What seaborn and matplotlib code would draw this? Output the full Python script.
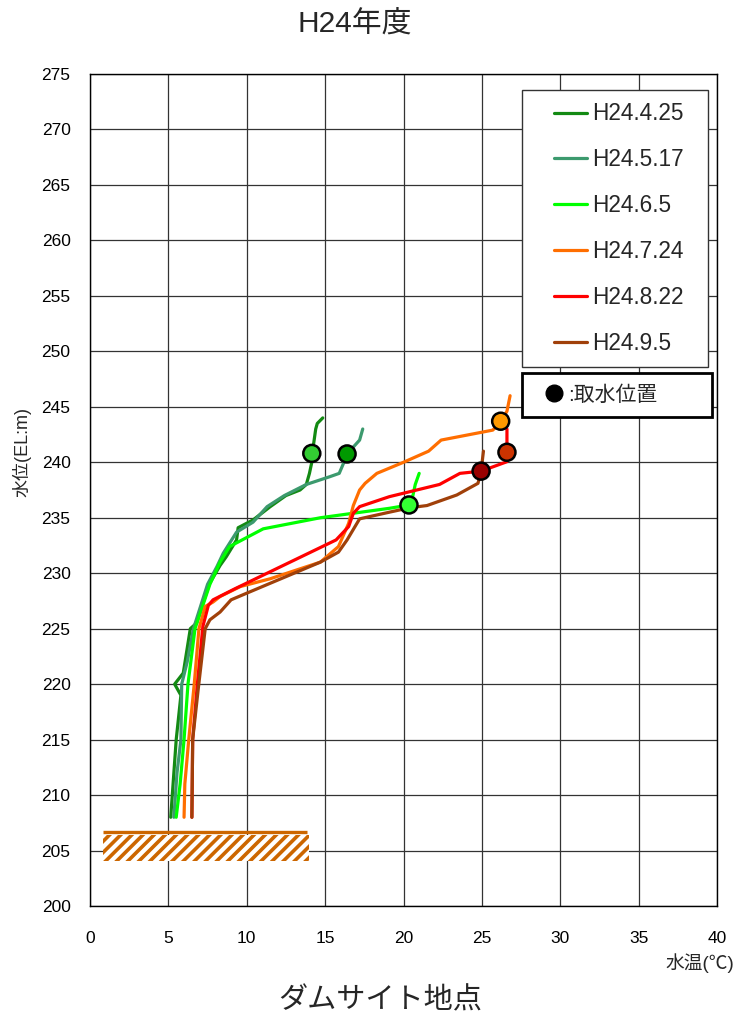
import matplotlib
matplotlib.use("Agg")
import matplotlib.pyplot as plt
from matplotlib.lines import Line2D
from matplotlib.legend_handler import HandlerLine2D
import seaborn as sns
import pandas as pd

# ---------------- data ----------------
DATES = ["H24.4.25", "H24.5.17", "H24.6.5", "H24.7.24", "H24.8.22", "H24.9.5"]
LINE_COLORS = ["#138a13", "#3c9a6e", "#00ff00", "#ff6e00", "#ff0000", "#a0400a"]
MARKER_COLORS = ["#33cc33", "#009900", "#33ff33", "#ff9900", "#cc3300", "#990000"]

EL_0425 = [208, 212, 215, 219, 220, 221, 225, 225.5, 229, 230.7, 231.5, 233, 234.1, 234.8,
           236, 237, 237.5, 238, 239, 240, 241, 242, 243, 243.5, 244]
T_0425 = [5.15, 5.35, 5.5, 5.8, 5.4, 5.95, 6.4, 6.8, 7.6, 8.3, 8.7, 9.35, 9.45, 10.4,
          11.5, 12.5, 13.4, 13.8, 14.0, 14.15, 14.2, 14.3, 14.4, 14.5, 14.85]

EL_0517 = [208, 212, 215, 220, 222, 225, 229, 230.6, 231.8, 233.7, 234.6, 236, 237, 238,
           238.7, 239, 240, 240.75, 242, 242.5, 243]
T_0517 = [5.35, 5.55, 5.8, 5.85, 6.2, 6.6, 7.5, 8.1, 8.5, 9.35, 10.4, 11.3, 12.4, 13.8,
          15.3, 15.9, 16.2, 16.4, 17.2, 17.3, 17.4]

EL_0605 = [208, 211, 215, 220, 225, 229, 231, 232.4, 234, 235, 235.85, 236.15, 237, 238, 239]
T_0605 = [5.5, 5.75, 6.0, 6.25, 6.7, 7.65, 8.3, 8.9, 11.05, 14.7, 19.1, 20.35, 20.6, 20.75, 21.0]

EL_0724 = [208, 211, 215, 220, 225, 227, 227.4, 227.9, 228.8, 229.5, 230.3, 231.0, 232.4,
           234.5, 236.1, 237.5, 238.1, 239, 240, 241, 242, 242.9, 243.7, 244.6, 246]
T_0724 = [6.0, 6.05, 6.3, 6.65, 6.95, 7.35, 7.85, 8.3, 9.6, 11.5, 13.2, 14.7, 15.85,
          16.5, 16.8, 17.2, 17.55, 18.3, 20.0, 21.6, 22.4, 25.7, 26.2, 26.6, 26.8]

EL_0822 = [208, 215, 220, 225.2, 227.1, 227.6, 228.6, 233.0, 234.2, 235.4, 236.0, 236.9,
           238.0, 239.0, 239.2, 240.05, 240.9, 243.0]
T_0822 = [6.5, 6.55, 6.85, 7.2, 7.55, 7.85, 9.25, 15.7, 16.5, 16.8, 17.2, 19.1,
          22.3, 23.6, 24.95, 26.6, 26.6, 26.6]

EL_0905 = [208, 215, 219.5, 225, 225.8, 226.5, 227.6, 228.2, 231.0, 231.9, 233.0, 234.9,
           235.5, 235.9, 236.1, 237.05, 238.1, 239.2, 241.0]
T_0905 = [6.5, 6.55, 6.9, 7.35, 7.65, 8.3, 9.0, 10.0, 14.7, 15.85, 16.4, 17.2,
          19.1, 20.4, 21.5, 23.4, 24.75, 24.95, 25.1]

INTAKE_T = [14.15, 16.4, 20.35, 26.2, 26.6, 24.95]
INTAKE_EL = [240.8, 240.75, 236.15, 243.7, 240.9, 239.2]

X_TICKS = list(range(0, 41, 5))
Y_TICKS = list(range(200, 276, 5))
SEDIMENT_T = [0.83, 14.0]
SEDIMENT_EL = [204.1, 206.4]
SEDIMENT_TOP_EL = 206.7
SEDIMENT_COLOR = "#cc6600"

ELS = [EL_0425, EL_0517, EL_0605, EL_0724, EL_0822, EL_0905]
TS = [T_0425, T_0517, T_0605, T_0724, T_0822, T_0905]

# ---------------- style ----------------
sns.set_style("white")
plt.rcParams["font.family"] = ["Liberation Sans", "Noto Sans CJK JP", "DejaVu Sans"]
plt.rcParams["hatch.linewidth"] = 2.6
plt.rcParams["axes.unicode_minus"] = False

fig = plt.figure(figsize=(7.36, 10.18), dpi=100)
ax = fig.add_axes([90 / 736, 1 - 906 / 1018, 627 / 736, 832 / 1018])

frames = []
for d, el, t in zip(DATES, ELS, TS):
    frames.append(pd.DataFrame({"date": d, "EL": el, "T": t}))
df = pd.concat(frames, ignore_index=True)

palette = dict(zip(DATES, LINE_COLORS))
sns.lineplot(data=df, x="T", y="EL", hue="date", hue_order=DATES, palette=palette,
             sort=False, estimator=None, linewidth=2.3, legend=False, ax=ax, zorder=3)

mk = pd.DataFrame({"date": DATES, "T": INTAKE_T, "EL": INTAKE_EL})
sns.scatterplot(data=mk, x="T", y="EL", hue="date", hue_order=DATES,
                palette=dict(zip(DATES, MARKER_COLORS)), s=150, edgecolor="black",
                linewidth=1.8, legend=False, ax=ax, zorder=5)

# sediment hatch
ax.fill_between(SEDIMENT_T, SEDIMENT_EL[0], SEDIMENT_EL[1], facecolor="white",
                edgecolor=SEDIMENT_COLOR, hatch="///", linewidth=0, zorder=2)
ax.hlines(SEDIMENT_TOP_EL, SEDIMENT_T[0], SEDIMENT_T[1] - 0.15, color=SEDIMENT_COLOR,
          linewidth=2.4, zorder=2)

ax.set_xlim(0, 40)
ax.set_ylim(200, 275)
ax.set_xticks(X_TICKS)
ax.set_yticks(Y_TICKS)
ax.grid(True, color="#333333", linewidth=0.9, zorder=0)
ax.set_axisbelow(True)
for s in ax.spines.values():
    s.set_color("black")
    s.set_linewidth(1.0)
ax.tick_params(axis="both", length=0, labelsize=12.5, colors="black")
ax.tick_params(axis="y", pad=14)
ax.tick_params(axis="x", pad=18)
ax.set_xlabel("")
ax.set_ylabel("")

# texts
fig.text(355 / 736, 1 - 25 / 1018, "H24年度", ha="center", va="center", fontsize=21.5)
fig.text(380 / 736, 1 - 1000 / 1018, "ダムサイト地点", ha="center", va="center", fontsize=21)
fig.text(734 / 736, 1 - 963 / 1018, "水温(℃)", ha="right", va="center", fontsize=13.5)
fig.text(22 / 736, 1 - 452 / 1018, "水位(EL:m)", ha="center", va="center",
         rotation=90, fontsize=13)

# legend 1
handles = [Line2D([], [], color=c, linewidth=2.3) for c in LINE_COLORS]
leg1 = ax.legend(handles, DATES, loc="upper left",
                 bbox_to_anchor=(432 / 627, (906 - 365) / 832, 186 / 627, 275 / 832),
                 mode="expand", fontsize=16.3, borderpad=0.55, borderaxespad=0,
                 handlelength=2.3, handletextpad=0.25, labelspacing=1.01, frameon=True,
                 fancybox=False, edgecolor="#333333", framealpha=1,
                 handler_map={Line2D: HandlerLine2D(xpad=0.85)})
leg1.get_frame().set_linewidth(1.0)
ax.add_artist(leg1)

# legend 2
h2 = [Line2D([], [], marker="o", color="black", linestyle="none", markersize=12)]
leg2 = ax.legend(h2, [":取水位置"], loc="upper left",
                 bbox_to_anchor=(432 / 627, (906 - 418) / 832, 190 / 627, 45 / 832),
                 mode="expand", fontsize=15, borderpad=0.58, borderaxespad=0,
                 handlelength=1.45, handletextpad=0.2, frameon=True, fancybox=False,
                 edgecolor="black", framealpha=1,
                 handler_map={Line2D: HandlerLine2D(xpad=0.42)})
leg2.get_frame().set_linewidth(2.0)

fig.savefig("out.png", dpi=100, facecolor="white")
